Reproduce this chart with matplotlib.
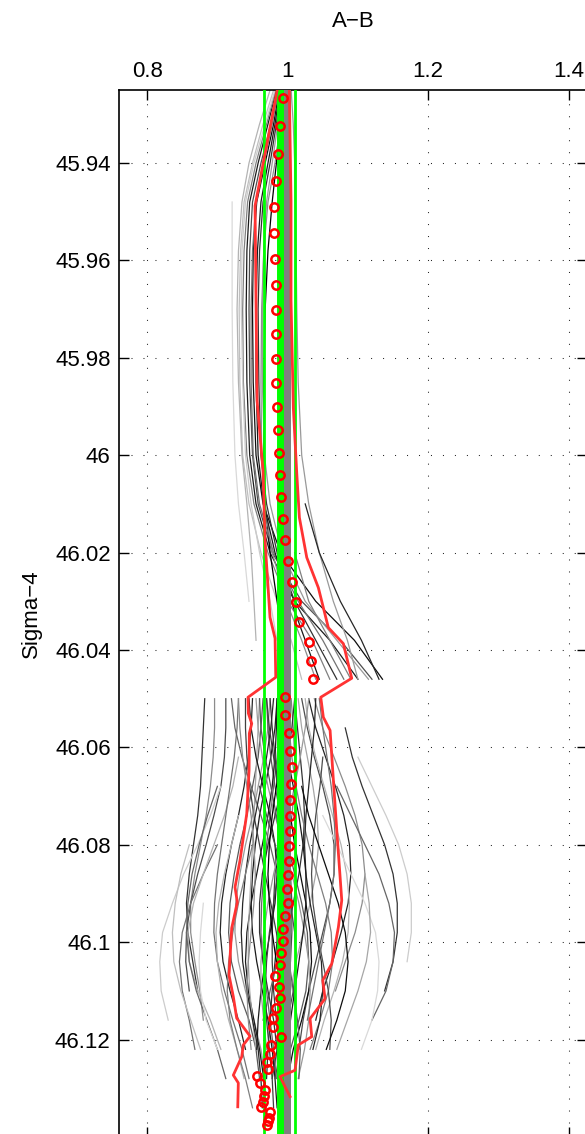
import numpy as np
import matplotlib
matplotlib.use("Agg")
import matplotlib.pyplot as plt

nan = np.nan

# ---- data ---------------------------------------------------------------
# upper cast group: shared depth grid and one x row per profile
upper_depth = [45.925, 45.932, 45.94, 45.948, 45.958, 45.97, 45.985,
               46.0, 46.01, 46.02, 46.03, 46.038, 46.046]
upper_shade = [0.1, 0.3, 0.05, 0.5, 0.75, 0.2, 0.0, 0.55, 0.85, 0.6,
               0.15, 0.45, 0.8, 0.1, 0.6, 0.7, 0.5]
upper_x = [
    [0.984, 0.972, 0.958, 0.946, 0.942, 0.941, 0.942, 0.946, 0.955, 0.975, 1.010, 1.060, 1.100],
    [0.986, 0.976, 0.962, 0.950, 0.946, 0.945, 0.946, 0.950, 0.958, 0.978, 1.020, 1.075, 1.120],
    [0.988, 0.980, 0.968, 0.956, 0.951, 0.950, 0.951, 0.955, 0.965, 0.990, 1.040, 1.095, 1.135],
    [0.983, 0.970, 0.955, 0.943, 0.938, 0.936, 0.937, 0.942, 0.952, 0.972, 1.000, 1.035, 1.060],
    [0.980, 0.965, 0.950, 0.938, 0.933, 0.931, 0.932, 0.936, 0.945, 0.962, 0.985, 1.005, 1.020],
    [0.990, 0.984, 0.975, 0.965, 0.960, 0.958, 0.959, 0.962, 0.970, 0.985, 1.010, 1.040, 1.070],
    [0.992, 0.988, 0.984, 0.978, 0.972, 0.968, 0.966, 0.966, 0.968, 0.975, 0.985, 0.992, 0.997],
    [0.995, 0.990, 0.982, 0.972, 0.966, 0.963, 0.962, 0.963, 0.967, 0.978, 0.998, 1.020, 1.040],
    [nan, nan, nan, 0.921, 0.921, 0.921, 0.922, 0.925, 0.930, 0.938, 0.945, nan, nan],
    [1.005, 1.008, 1.010, 1.011, 1.012, 1.013, 1.015, 1.020, 1.030, 1.045, 1.065, 1.085, 1.100],
    [nan, nan, nan, nan, nan, nan, nan, nan, 1.025, 1.045, 1.075, 1.105, 1.130],
    [0.987, 0.978, 0.966, 0.955, 0.950, 0.948, 0.948, 0.951, 0.960, 0.980, 1.015, 1.050, 1.080],
    [0.982, 0.968, 0.952, 0.940, 0.935, 0.934, 0.936, 0.940, 0.948, 0.960, 0.975, 0.985, nan],
    [0.989, 0.982, 0.972, 0.962, 0.957, 0.955, 0.955, 0.958, 0.966, 0.982, 1.005, 1.025, 1.045],
    [0.991, 0.986, 0.978, 0.970, 0.966, 0.964, 0.964, 0.967, 0.975, 0.992, 1.025, 1.070, 1.115],
    [0.975, 0.960, 0.945, 0.935, 0.930, 0.928, 0.930, 0.935, 0.942, 0.948, 0.952, 0.955, nan],
    [nan, nan, nan, nan, nan, nan, nan, nan, nan, 1.010, 1.030, 1.060, 1.090],
]

# lower cast group
lower_depth = [46.05, 46.056, 46.062, 46.068, 46.074, 46.08, 46.086, 46.092,
               46.098, 46.104, 46.11, 46.116, 46.122, 46.128, 46.134]
lower_shade = [0.2, 0.55, 0.3, 0.8, 0.45, 0.7, 0.15, 0.35, 0.6, 0.1, 0.4, 0.25,
               0.5, 0.2, 0.65, 0.3, 0.15, 0.55, 0.2, 0.8, 0.4, 0.7, 0.05, 0.35,
               0.6, 0.25, 0.75, 0.45, 0.1, 0.5, 0.85, 0.3, 0.2, 0.65, 0.4, 0.15,
               0.1, 0.4, 0.2, 0.6, 0.3, 0.05, 0.35, 0.15, 0.7, 0.5, 0.45, 0.65,
               0.25, 0.1, 0.55, 0.3, 0.85, 0.0]
lower_x = [
    [0.882, 0.880, 0.878, 0.876, 0.872, 0.866, 0.860, 0.856, 0.858, 0.865, 0.872, nan, nan, nan, nan],
    [0.896, 0.896, 0.894, 0.890, 0.884, 0.876, 0.868, 0.862, 0.862, 0.868, 0.875, 0.880, nan, nan, nan],
    [0.912, 0.912, 0.910, 0.905, 0.895, 0.884, 0.872, 0.862, 0.856, 0.855, 0.860, nan, nan, nan, nan],
    [nan, nan, nan, 0.905, 0.890, 0.872, 0.852, 0.836, 0.822, 0.818, 0.820, 0.830, nan, nan, nan],
    [nan, nan, nan, nan, nan, 0.900, 0.880, 0.862, 0.850, 0.846, 0.850, 0.860, 0.868, nan, nan],
    [nan, nan, 0.930, 0.922, 0.910, 0.895, 0.880, 0.866, 0.858, 0.860, 0.872, 0.890, 0.905, nan, nan],
    [0.950, 0.948, 0.944, 0.938, 0.930, 0.920, 0.912, 0.906, 0.904, 0.908, 0.918, 0.930, 0.940, nan, nan],
    [0.965, 0.962, 0.958, 0.950, 0.942, 0.932, 0.924, 0.918, 0.916, 0.920, 0.930, 0.945, 0.955, 0.960, nan],
    [0.975, 0.972, 0.966, 0.958, 0.950, 0.940, 0.932, 0.926, 0.925, 0.930, 0.940, 0.952, 0.962, 0.968, nan],
    [0.985, 0.982, 0.976, 0.968, 0.960, 0.954, 0.950, 0.948, 0.950, 0.956, 0.964, 0.972, 0.978, 0.982, 0.985],
    [0.990, 0.988, 0.985, 0.980, 0.975, 0.970, 0.966, 0.963, 0.962, 0.965, 0.970, 0.975, 0.980, 0.984, nan],
    [1.000, 1.000, 0.998, 0.995, 0.990, 0.986, 0.982, 0.980, 0.978, 0.978, 0.980, 0.984, 0.988, 0.990, 0.992],
    [1.005, 1.008, 1.010, 1.010, 1.006, 1.000, 0.994, 0.990, 0.988, 0.990, 0.994, 0.998, 1.000, nan, nan],
    [1.010, 1.014, 1.018, 1.022, 1.024, 1.022, 1.016, 1.008, 1.000, 0.994, 0.990, 0.988, 0.990, nan, nan],
    [1.015, 1.020, 1.028, 1.036, 1.042, 1.044, 1.040, 1.032, 1.022, 1.012, 1.004, 0.998, nan, nan, nan],
    [1.020, 1.028, 1.038, 1.050, 1.060, 1.066, 1.066, 1.060, 1.050, 1.040, 1.030, 1.022, 1.016, nan, nan],
    [1.030, 1.040, 1.054, 1.068, 1.080, 1.088, 1.090, 1.086, 1.076, 1.064, 1.050, 1.040, nan, nan, nan],
    [1.038, 1.050, 1.066, 1.082, 1.096, 1.106, 1.110, 1.106, 1.096, 1.082, 1.068, nan, nan, nan, nan],
    [nan, 1.082, 1.092, 1.106, 1.122, 1.138, 1.150, 1.156, 1.156, 1.150, 1.138, nan, nan, nan, nan],
    [nan, nan, 1.100, 1.120, 1.140, 1.158, 1.170, 1.176, 1.176, 1.170, nan, nan, nan, nan, nan],
    [nan, nan, nan, 1.070, 1.090, 1.110, 1.130, 1.144, 1.152, 1.150, 1.140, 1.120, nan, nan, nan],
    [1.025, 1.030, 1.040, 1.052, 1.064, 1.076, 1.084, 1.088, 1.086, 1.078, 1.066, 1.052, 1.040, nan, nan],
    [0.995, 0.996, 0.998, 1.000, 1.004, 1.010, 1.018, 1.026, 1.032, 1.034, 1.030, 1.020, 1.008, 1.000, nan],
    [0.970, 0.972, 0.976, 0.982, 0.990, 1.000, 1.010, 1.020, 1.028, 1.030, 1.026, 1.016, 1.004, nan, nan],
    [0.955, 0.958, 0.964, 0.972, 0.982, 0.994, 1.006, 1.016, 1.024, 1.030, 1.032, 1.030, 1.024, 1.015, nan],
    [0.940, 0.940, 0.942, 0.946, 0.952, 0.960, 0.968, 0.976, 0.984, 0.990, 0.992, 0.990, 0.985, 0.978, nan],
    [nan, nan, nan, nan, nan, 0.860, 0.848, 0.840, 0.836, 0.838, 0.848, 0.862, 0.876, nan, nan],
    [0.930, 0.928, 0.924, 0.918, 0.912, 0.906, 0.900, 0.896, 0.895, 0.900, 0.910, 0.922, 0.935, 0.945, nan],
    [0.985, 0.984, 0.982, 0.978, 0.972, 0.964, 0.956, 0.948, 0.942, 0.940, 0.944, 0.952, 0.960, 0.966, nan],
    [1.000, 1.002, 1.006, 1.012, 1.020, 1.030, 1.042, 1.054, 1.062, 1.064, 1.058, 1.046, 1.032, nan, nan],
    [nan, nan, nan, nan, 1.050, 1.070, 1.090, 1.110, 1.125, 1.130, 1.128, 1.120, 1.105, nan, nan],
    [0.990, 0.990, 0.990, 0.992, 0.996, 1.000, 1.004, 1.006, 1.006, 1.004, 1.000, 0.996, 0.992, 0.990, 0.990],
    [0.975, 0.978, 0.982, 0.986, 0.990, 0.992, 0.992, 0.990, 0.986, 0.982, 0.978, 0.975, 0.972, 0.970, nan],
    [0.960, 0.958, 0.956, 0.954, 0.952, 0.950, 0.948, 0.946, 0.944, 0.944, 0.946, 0.950, 0.955, nan, nan],
    [nan, nan, nan, 0.900, 0.886, 0.874, 0.864, 0.858, 0.856, 0.860, 0.870, 0.885, 0.900, 0.912, nan],
    [1.040, 1.038, 1.034, 1.030, 1.026, 1.024, 1.026, 1.032, 1.040, 1.048, 1.050, 1.046, 1.036, nan, nan],
    [0.945, 0.948, 0.955, 0.965, 0.975, 0.982, 0.985, 0.982, 0.975, 0.968, 0.962, 0.958, 0.956, nan, nan],
    [0.920, 0.925, 0.935, 0.948, 0.962, 0.975, 0.985, 0.990, 0.990, 0.985, 0.975, 0.965, nan, nan, nan],
    [1.010, 1.006, 1.000, 0.992, 0.982, 0.972, 0.964, 0.960, 0.960, 0.965, 0.972, 0.980, 0.985, 0.986, nan],
    [1.030, 1.025, 1.018, 1.010, 1.000, 0.990, 0.980, 0.972, 0.966, 0.962, 0.962, 0.966, 0.970, nan, nan],
    [nan, nan, 1.050, 1.046, 1.040, 1.036, 1.034, 1.036, 1.042, 1.050, 1.058, 1.062, 1.060, nan, nan],
    [nan, nan, nan, 1.020, 1.030, 1.044, 1.058, 1.072, 1.082, 1.086, 1.082, 1.070, 1.055, nan, nan],
    [0.960, 0.962, 0.968, 0.976, 0.984, 0.990, 0.994, 0.996, 0.998, 1.002, 1.008, 1.014, 1.018, 1.016, nan],
    [0.980, 0.976, 0.970, 0.962, 0.954, 0.946, 0.940, 0.936, 0.934, 0.936, 0.942, 0.950, 0.958, 0.962, 0.964],
    [nan, nan, nan, nan, 0.930, 0.920, 0.910, 0.902, 0.898, 0.900, 0.906, 0.916, 0.928, 0.938, nan],
    [nan, nan, nan, nan, nan, 0.950, 0.940, 0.930, 0.922, 0.916, 0.914, 0.918, 0.928, 0.940, 0.950],
    [1.045, 1.050, 1.056, 1.062, 1.066, 1.068, 1.066, 1.060, 1.052, 1.044, 1.036, 1.028, nan, nan, nan],
    [nan, nan, nan, nan, nan, nan, 1.110, 1.116, 1.118, 1.112, 1.100, 1.085, 1.070, nan, nan],
    [0.970, 0.974, 0.980, 0.986, 0.990, 0.990, 0.986, 0.980, 0.974, 0.970, 0.968, 0.970, 0.974, 0.978, 0.980],
    [0.990, 0.994, 1.000, 1.008, 1.016, 1.022, 1.026, 1.026, 1.022, 1.016, 1.010, 1.004, 1.000, 0.996, nan],
    [0.930, 0.932, 0.936, 0.942, 0.948, 0.952, 0.954, 0.952, 0.948, 0.944, 0.942, 0.944, 0.948, nan, nan],
    [nan, nan, nan, 0.960, 0.970, 0.982, 0.994, 1.004, 1.010, 1.012, 1.008, 1.000, 0.990, 0.982, nan],
    [nan, nan, nan, nan, nan, nan, nan, 0.880, 0.876, 0.874, 0.876, 0.884, 0.900, nan, nan],
    [1.000, 0.996, 0.990, 0.984, 0.978, 0.974, 0.972, 0.974, 0.978, 0.984, 0.990, 0.994, 0.996, 0.996, 0.994],
]

# envelope lines (red)
red_left_d = [45.9252, 45.9488, 45.9683, 45.9888, 46.0032, 46.0175, 46.0333, 46.0376,
              46.0456, 46.0497, 46.0530, 46.0551, 46.0571, 46.0647, 46.0736, 46.0832,
              46.0887, 46.0918, 46.0971, 46.1068, 46.1112, 46.1156, 46.1193, 46.1211,
              46.1235, 46.1273, 46.1289, 46.1338]
red_left_x = [0.9849, 0.9536, 0.9550, 0.9565, 0.9650, 0.9678, 0.9749, 0.9821,
              0.9831, 0.9436, 0.9441, 0.9489, 0.9455, 0.9451, 0.9418, 0.9322,
              0.9251, 0.9284, 0.9204, 0.9166, 0.9227, 0.9275, 0.9465, 0.9369,
              0.9347, 0.9227, 0.9298, 0.9290]
red_right_d = [45.9252, 45.9478, 45.9683, 45.9903, 46.0038, 46.0128, 46.0210, 46.0272,
               46.0354, 46.0387, 46.0458, 46.0497, 46.0538, 46.0565, 46.0668, 46.0770,
               46.0914, 46.0969, 46.1044, 46.1078, 46.1116, 46.1157, 46.1194, 46.1211,
               46.1263, 46.1276, 46.1297, 46.1317]
red_right_x = [1.0024, 1.0048, 1.0048, 1.0081, 1.0130, 1.0167, 1.0272, 1.0437,
               1.0579, 1.0793, 1.0912, 1.0471, 1.0508, 1.0604, 1.0651, 1.0699,
               1.0770, 1.0722, 1.0628, 1.0500, 1.0532, 1.0319, 1.0343, 1.0152,
               1.0105, 0.9892, 0.9963, 1.0034]

# median points (red circles)
med_d = [45.9267, 45.9324, 45.9381, 45.9436, 45.9491, 45.9544, 45.9598, 45.9650,
         45.9702, 45.9751, 45.9802, 45.9851, 45.9900, 45.9948, 45.9995, 46.0040,
         46.0086, 46.0130, 46.0175, 46.0217, 46.0260, 46.0301, 46.0342, 46.0383,
         46.0422, 46.0460,
         46.0497, 46.0534, 46.0571, 46.0607, 46.0641, 46.0675, 46.0707, 46.0740,
         46.0772, 46.0803, 46.0833, 46.0863, 46.0891, 46.0919, 46.0946, 46.0972,
         46.0998, 46.1023, 46.1047, 46.1070, 46.1093, 46.1114, 46.1136, 46.1156,
         46.1175, 46.1194, 46.1212, 46.1229, 46.1246, 46.1261, 46.1275, 46.1290,
         46.1304, 46.1316, 46.1328, 46.1339, 46.1349, 46.1360, 46.1368, 46.1376]
med_x = [0.9935, 0.9892, 0.9863, 0.9838, 0.9799, 0.9806, 0.9821, 0.9831,
         0.9832, 0.9835, 0.9835, 0.9839, 0.9853, 0.9868, 0.9882, 0.9892,
         0.9899, 0.9930, 0.9966, 1.0001, 1.0067, 1.0115, 1.0167, 1.0300,
         1.0337, 1.0362,
         0.9959, 0.9967, 1.0024, 1.0038, 1.0058, 1.0048, 1.0038, 1.0034,
         1.0034, 1.0024, 1.0020, 1.0010, 0.9987, 1.0001, 0.9967, 0.9939,
         0.9930, 0.9910, 0.9896, 0.9825, 0.9882, 0.9896, 0.9835, 0.9792,
         0.9796, 0.9906, 0.9759, 0.9745, 0.9711, 0.9717, 0.9560, 0.9603,
         0.9678, 0.9664, 0.9646, 0.9626, 0.9749, 0.9735, 0.9721, 0.9707]

# reference values
green_mean = 0.989
green_spread = [0.967, 1.011]
gray_band = [0.994, 1.005]

x_ticks = [0.8, 1.0, 1.2, 1.4]
x_ticklabels = ['0.8', '1', '1.2', '1.4']
y_ticks = [45.94, 45.96, 45.98, 46.0, 46.02, 46.04, 46.06, 46.08, 46.1, 46.12]
y_ticklabels = ['45.94', '45.96', '45.98', '46', '46.02', '46.04', '46.06',
                '46.08', '46.1', '46.12']

# ---- plot ---------------------------------------------------------------
plt.rcParams['font.family'] = ['Liberation Sans', 'DejaVu Sans']

fig = plt.figure(figsize=(5.85, 11.34), dpi=100)
ax = fig.add_axes([119 / 585, 1 - 1137 / 1134, 468 / 585, 1047 / 1134])

for shade, xs in zip(upper_shade, upper_x):
    ax.plot(xs, upper_depth, color=(shade, shade, shade), lw=0.9, zorder=2)
for shade, xs in zip(lower_shade, lower_x):
    ax.plot(xs, lower_depth, color=(shade, shade, shade), lw=0.9, zorder=2)

ax.axvspan(gray_band[0], gray_band[1], color=(0.5, 0.5, 0.5), lw=0, zorder=3)
ax.axvline(green_mean, color=(0, 1, 0), lw=5, zorder=3)
for gx in green_spread:
    ax.axvline(gx, color=(0, 1, 0), lw=2, zorder=3)

ax.plot(red_left_x, red_left_d, color='#ff3333', lw=2, zorder=4)
ax.plot(red_right_x, red_right_d, color='#ff3333', lw=2, zorder=4)
ax.plot(med_x, med_d, 'o', mfc='none', mec='r', ms=6, mew=1.8, zorder=5)

ax.set_xlim(0.76, 1.426)
ax.set_ylim(46.14, 45.925)
ax.set_xticks(x_ticks)
ax.set_xticklabels(x_ticklabels)
ax.set_yticks(y_ticks)
ax.set_yticklabels(y_ticklabels)
ax.xaxis.tick_top()
ax.xaxis.set_label_position('top')
ax.tick_params(direction='in', length=7, width=1, labelsize=16, pad=6,
               top=True, bottom=True, left=True, right=True)
for sp in ax.spines.values():
    sp.set_linewidth(1.2)

ax.grid(True, color=(0.15, 0.15, 0.15), lw=0.75, linestyle=(0, (1, 10.5)))
ax.set_axisbelow(True)

ax.set_xlabel('A\u2212B', fontsize=16, labelpad=24)
ax.set_ylabel('Sigma\u22124', fontsize=16, labelpad=9)

fig.savefig('out.png', dpi=100)
